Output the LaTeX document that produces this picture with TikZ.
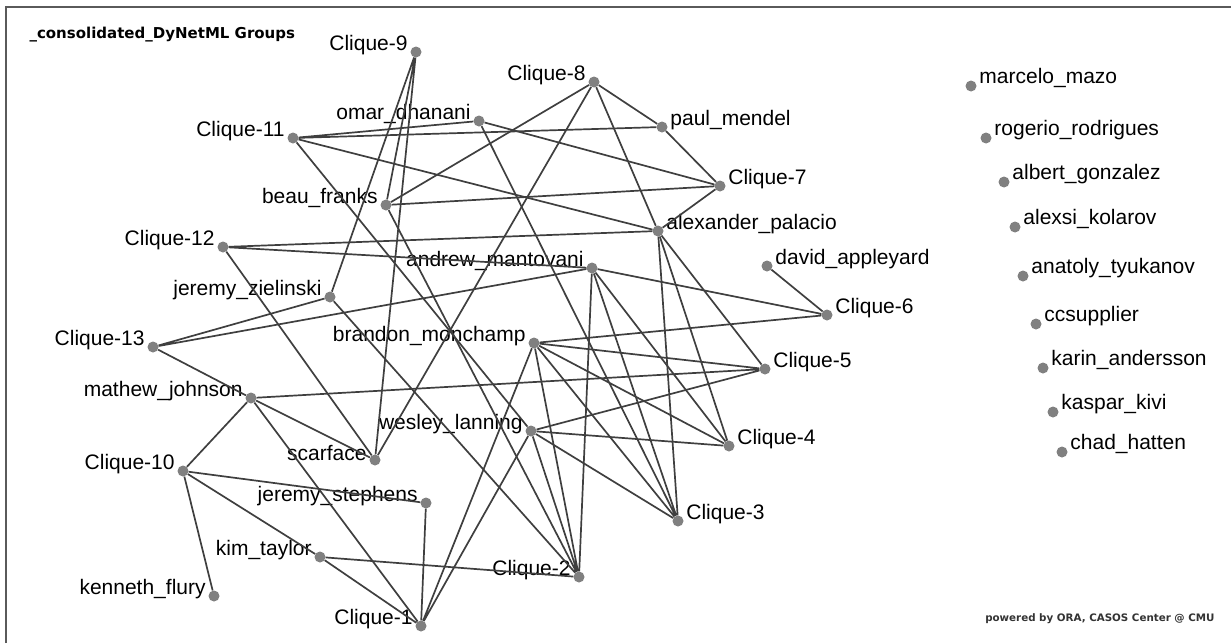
\documentclass[tikz,border=0pt]{standalone}
\usepackage{fontspec}
\setmainfont{Liberation Sans}
\newfontfamily\badgefont{DejaVu Sans}
\definecolor{dotgray}{HTML}{808080}
\definecolor{linegray}{HTML}{3F3F3F}
\definecolor{framegray}{HTML}{5A5A5A}
\tikzset{
  dot/.style={circle,fill=dotgray,inner sep=0pt,minimum size=11pt},
  lbl/.style={font=\fontsize{21}{23}\selectfont,inner sep=0pt,yshift=7pt},
  tie/.style={draw=linegray,line width=1.7pt}
}
\begin{document}
\begin{tikzpicture}[x=1pt,y=-1pt,label distance=2.5pt]
  \useasboundingbox (0,0) rectangle (1231,643);
  \draw[framegray,line width=2pt] (6,643) -- (6,7) -- (1231,7);

  \node[anchor=west,font=\badgefont\bfseries\fontsize{15}{17}\selectfont] (title) at (26,35) {\_consolidated\_DyNetML Groups};
  \node[anchor=east,font=\badgefont\bfseries\fontsize{10.3}{12}\selectfont,text=black!80] (credit) at (1218,619) {powered by ORA, CASOS Center @ CMU};

  %% cliques
  \node[dot,label={[lbl]left:Clique-9}] (c9) at (416,52) {};
  \node[dot,label={[lbl]left:Clique-8}] (c8) at (594,82) {};
  \node[dot,label={[lbl]left:Clique-11}] (c11) at (293,138) {};
  \node[dot,label={[lbl]right:Clique-7}] (c7) at (720,186) {};
  \node[dot,label={[lbl]left:Clique-12}] (c12) at (223,247) {};
  \node[dot,label={[lbl]right:Clique-6}] (c6) at (827,315) {};
  \node[dot,label={[lbl]left:Clique-13}] (c13) at (153,347) {};
  \node[dot,label={[lbl]right:Clique-5}] (c5) at (765,369) {};
  \node[dot,label={[lbl]right:Clique-4}] (c4) at (729,446) {};
  \node[dot,label={[lbl]left:Clique-10}] (c10) at (183,471) {};
  \node[dot,label={[lbl]right:Clique-3}] (c3) at (678,521) {};
  \node[dot,label={[lbl]left:Clique-2}] (c2) at (579,577) {};
  \node[dot,label={[lbl]left:Clique-1}] (c1) at (421,626) {};

  %% agents
  \node[dot,label={[lbl]left:omar\_dhanani}] (omar) at (479,121) {};
  \node[dot,label={[lbl]right:paul\_mendel}] (paul) at (662,127) {};
  \node[dot,label={[lbl]left:beau\_franks}] (beau) at (386,205) {};
  \node[dot,label={[lbl]right:alexander\_palacio}] (alex) at (658,231) {};
  \node[dot,label={[lbl]right:david\_appleyard}] (david) at (767,266) {};
  \node[dot,label={[lbl]left:andrew\_mantovani}] (andrew) at (592,268) {};
  \node[dot,label={[lbl]left:jeremy\_zielinski}] (zielinski) at (330,297) {};
  \node[dot,label={[lbl]left:brandon\_monchamp}] (brandon) at (534,343) {};
  \node[dot,label={[lbl]left:mathew\_johnson}] (mathew) at (251,398) {};
  \node[dot,label={[lbl]left:wesley\_lanning}] (wesley) at (531,431) {};
  \node[dot,label={[lbl]left:scarface}] (scarface) at (375,460) {};
  \node[dot,label={[lbl]left:jeremy\_stephens}] (stephens) at (426,503) {};
  \node[dot,label={[lbl]left:kim\_taylor}] (kim) at (320,557) {};
  \node[dot,label={[lbl]left:kenneth\_flury}] (kenneth) at (214,596) {};

  %% isolates
  \node[dot,label={[lbl,yshift=1pt]right:marcelo\_mazo}] (marcelo) at (971,86) {};
  \node[dot,label={[lbl,yshift=1pt]right:rogerio\_rodrigues}] (rogerio) at (986,138) {};
  \node[dot,label={[lbl,yshift=1pt]right:albert\_gonzalez}] (albert) at (1004,182) {};
  \node[dot,label={[lbl,yshift=1pt]right:alexsi\_kolarov}] (alexsi) at (1015,227) {};
  \node[dot,label={[lbl,yshift=1pt]right:anatoly\_tyukanov}] (anatoly) at (1023,276) {};
  \node[dot,label={[lbl,yshift=1pt]right:ccsupplier}] (ccsupplier) at (1036,324) {};
  \node[dot,label={[lbl,yshift=1pt]right:karin\_andersson}] (karin) at (1043,368) {};
  \node[dot,label={[lbl,yshift=1pt]right:kaspar\_kivi}] (kaspar) at (1053,412) {};
  \node[dot,label={[lbl,yshift=1pt]right:chad\_hatten}] (chad) at (1062,452) {};

  %% ties
  \draw[tie] (c9) -- (beau) (c9) -- (zielinski) (c9) -- (scarface);
  \draw[tie] (c8) -- (paul) (c8) -- (beau) (c8) -- (scarface) (c8) -- (alex);
  \draw[tie] (c11) -- (omar) (c11) -- (paul) (c11) -- (alex) (c11) -- (wesley);
  \draw[tie] (c7) -- (paul) (c7) -- (omar) (c7) -- (beau) (c7) -- (alex);
  \draw[tie] (c12) -- (alex) (c12) -- (andrew) (c12) -- (scarface);
  \draw[tie] (c13) -- (zielinski) (c13) -- (andrew) (c13) -- (mathew);
  \draw[tie] (c6) -- (andrew) (c6) -- (brandon) (c6) -- (david);
  \draw[tie] (c5) -- (brandon) (c5) -- (wesley) (c5) -- (mathew) (c5) -- (alex);
  \draw[tie] (c4) -- (brandon) (c4) -- (wesley) (c4) -- (andrew) (c4) -- (alex);
  \draw[tie] (c3) -- (brandon) (c3) -- (wesley) (c3) -- (omar) (c3) -- (alex) (c3) -- (andrew);
  \draw[tie] (c2) -- (kim) (c2) -- (andrew) (c2) -- (brandon) (c2) -- (wesley)
    (c2) -- (zielinski) (c2) -- (beau);
  \draw[tie] (c1) -- (stephens) (c1) -- (kim) (c1) -- (mathew) (c1) -- (brandon) (c1) -- (wesley);
  \draw[tie] (c10) -- (mathew) (c10) -- (kenneth) (c10) -- (stephens) (c10) -- (kim);
  \draw[tie] (mathew) -- (scarface);
\end{tikzpicture}
\end{document}
